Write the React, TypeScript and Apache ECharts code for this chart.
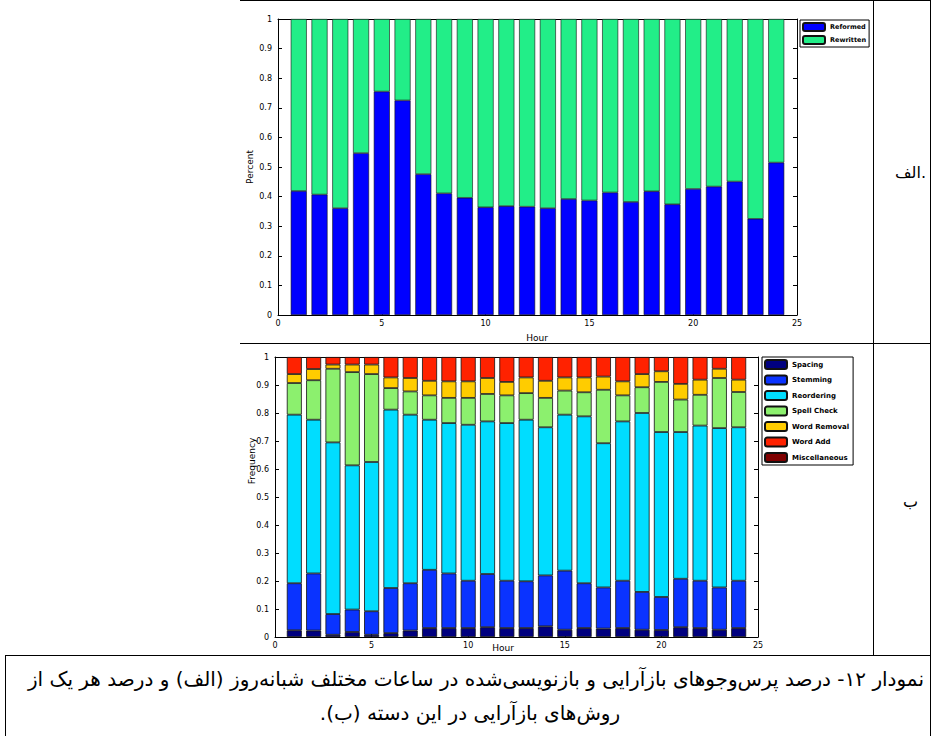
import React, { useEffect, useRef } from "react";
import * as echarts from "echarts";

// ---------- DATA ----------
const hours = [1, 2, 3, 4, 5, 6, 7, 8, 9, 10, 11, 12, 13, 14, 15, 16, 17, 18, 19, 20, 21, 22, 23, 24];
const xMin = 0;
const xMax = 25;
const xTicks = [0, 5, 10, 15, 20, 25];

// Chart (a): share of reformulated vs rewritten queries per hour
const topNames = ["Reformed", "Rewritten"];
const reformed = [0.419, 0.407, 0.361, 0.547, 0.755, 0.725, 0.476, 0.411, 0.396, 0.364, 0.368, 0.366, 0.361, 0.392, 0.387, 0.414, 0.382, 0.418, 0.374, 0.426, 0.434, 0.451, 0.325, 0.515];
const rewritten = [0.581, 0.593, 0.639, 0.453, 0.245, 0.275, 0.524, 0.589, 0.604, 0.636, 0.632, 0.634, 0.639, 0.608, 0.613, 0.586, 0.618, 0.582, 0.626, 0.574, 0.566, 0.549, 0.675, 0.485];

// Chart (b): share of each reformulation method per hour
const bottomNames = ["Spacing", "Stemming", "Reordering", "Spell Check", "Word Removal", "Word Add", "Miscellaneous"];
const spacing = [0.024, 0.023, 0.008, 0.018, 0.008, 0.014, 0.023, 0.032, 0.032, 0.032, 0.035, 0.032, 0.032, 0.038, 0.026, 0.032, 0.030, 0.032, 0.026, 0.025, 0.035, 0.032, 0.026, 0.032];
const stemming = [0.168, 0.204, 0.074, 0.080, 0.084, 0.161, 0.169, 0.208, 0.195, 0.169, 0.190, 0.169, 0.167, 0.182, 0.211, 0.160, 0.147, 0.169, 0.135, 0.118, 0.173, 0.169, 0.151, 0.169];
const reordering = [0.602, 0.549, 0.613, 0.515, 0.533, 0.637, 0.602, 0.536, 0.537, 0.557, 0.545, 0.563, 0.577, 0.529, 0.557, 0.596, 0.515, 0.569, 0.639, 0.589, 0.524, 0.554, 0.569, 0.548];
const spellCheck = [0.113, 0.141, 0.263, 0.333, 0.314, 0.077, 0.083, 0.087, 0.090, 0.096, 0.098, 0.099, 0.095, 0.105, 0.086, 0.086, 0.191, 0.093, 0.092, 0.179, 0.116, 0.110, 0.179, 0.126];
const wordRemoval = [0.032, 0.040, 0.015, 0.027, 0.034, 0.038, 0.048, 0.052, 0.059, 0.059, 0.057, 0.048, 0.056, 0.061, 0.047, 0.053, 0.047, 0.050, 0.047, 0.038, 0.056, 0.054, 0.033, 0.044];
const wordAdd = [0.061, 0.043, 0.027, 0.027, 0.027, 0.073, 0.075, 0.085, 0.087, 0.087, 0.075, 0.089, 0.073, 0.085, 0.073, 0.073, 0.070, 0.087, 0.061, 0.051, 0.096, 0.081, 0.042, 0.081];
const misc = [0.002, 0.002, 0.001, 0.002, 0.001, 0.002, 0.002, 0.002, 0.002, 0.002, 0.002, 0.002, 0.002, 0.002, 0.002, 0.002, 0.002, 0.002, 0.002, 0.002, 0.002, 0.002, 0.002, 0.002];

const topColors = ["#0000FF", "#22EE88"];
const bottomColors = ["#00007F", "#0A33FF", "#00DDFF", "#8CF06E", "#FFCC00", "#FF2200", "#7F0000"];

const captionLine1 = "نمودار ۱۲- درصد پرس‌وجوهای بازآرایی و بازنویسی‌شده در ساعات مختلف شبانه‌روز (الف) و درصد هر یک از";
const captionLine2 = "روش‌های بازآرایی در این دسته (ب).";
const labelA = "الف.";
const labelB = "ب";

const RLM = "\u200F";

export default function App() {
  const ref = useRef<HTMLDivElement>(null);

  useEffect(() => {
    if (!ref.current) return;
    const chart = echarts.init(ref.current, undefined, { renderer: "svg" });

    // category slots 0..25 so that bars sit exactly on the hour positions
    const slots: string[] = [];
    for (let v = xMin; v <= xMax; v++) slots.push(String(v));
    const slotData = (arr: number[]) => slots.map((s) => {
      const k = hours.indexOf(Number(s));
      return k >= 0 ? arr[k] : "-";
    });

    const tickFont = { fontSize: 8, color: "#000", fontFamily: "DejaVu Sans" };

    const mkCat = (grid: number) => ({
      type: "category",
      gridIndex: grid,
      data: slots,
      boundaryGap: false,
      show: false,
    });
    const mkX = (grid: number, show: boolean, pos: "top" | "bottom") => ({
      type: "value",
      gridIndex: grid,
      position: pos,
      min: xMin,
      max: xMax,
      interval: 5,
      axisLine: { show: true, onZero: false, lineStyle: { color: "#000", width: 1 } },
      axisTick: { show: true, inside: true, length: 4, lineStyle: { color: "#000" } },
      axisLabel: { show, ...tickFont, margin: 4, formatter: (v: number) => (xTicks.includes(v) ? String(v) : "") },
      splitLine: { show: false },
    });
    const mkY = (grid: number, show: boolean, pos: "left" | "right") => ({
      type: "value",
      gridIndex: grid,
      position: pos,
      min: 0,
      max: 1,
      interval: 0.1,
      axisLine: { show: true, onZero: false, lineStyle: { color: "#000", width: 1 } },
      axisTick: { show: true, inside: true, length: 4, lineStyle: { color: "#000" } },
      axisLabel: { show, ...tickFont, margin: 6 },
      splitLine: { show: false },
    });

    const series: any[] = [];
    [reformed, rewritten].forEach((arr, i) => {
      series.push({
        type: "bar",
        name: topNames[i],
        xAxisIndex: 0,
        yAxisIndex: 0,
        stack: "top",
        barWidth: 16,
        data: slotData(arr),
        itemStyle: { color: topColors[i], borderColor: "#111", borderWidth: 0.6 },
      });
    });
    [spacing, stemming, reordering, spellCheck, wordRemoval, wordAdd, misc].forEach((arr, i) => {
      series.push({
        type: "bar",
        name: bottomNames[i],
        xAxisIndex: 3,
        yAxisIndex: 2,
        stack: "bottom",
        barWidth: 15,
        data: slotData(arr),
        itemStyle: { color: bottomColors[i], borderColor: "#111", borderWidth: 0.8 },
      });
    });

    const line = (x1: number, y1: number, x2: number, y2: number) => ({
      type: "line",
      shape: { x1, y1, x2, y2 },
      style: { stroke: "#000", lineWidth: 1 },
      silent: true,
    });
    const txt = (text: string, x: number, y: number, size: number, align: string, rotation = 0, family = "DejaVu Sans") => ({
      type: "text",
      x,
      y,
      rotation,
      style: { text, fill: "#000", font: `${size}px "${family}"`, textAlign: align, textVerticalAlign: "middle" },
      silent: true,
    });

    const legendCommon = {
      orient: "vertical",
      backgroundColor: "#fff",
      borderColor: "#000",
      borderWidth: 1,
      borderRadius: 0,
      itemWidth: 22,
      selectedMode: false,
    };

    chart.setOption({
      animation: false,
      backgroundColor: "#fff",
      grid: [
        { left: 278, top: 19, width: 519, height: 296 },
        { left: 275, top: 357, width: 483, height: 280 },
      ],
      xAxis: [mkCat(0), mkX(0, true, "bottom"), mkX(0, false, "top"), mkCat(1), mkX(1, true, "bottom"), mkX(1, false, "top")],
      yAxis: [mkY(0, true, "left"), mkY(0, false, "right"), mkY(1, true, "left"), mkY(1, false, "right")],
      legend: [
        {
          ...legendCommon, data: topNames, left: 800, top: 20, itemGap: 3, itemHeight: 8, padding: [2, 3, 2, 2],
          textStyle: { fontSize: 6.5, lineHeight: 8, color: "#000", fontFamily: "DejaVu Sans", fontWeight: "bold" },
        },
        {
          ...legendCommon, data: bottomNames, left: 762, top: 357, itemGap: 4.5, itemHeight: 9, padding: [2, 4, 2, 2],
          textStyle: { fontSize: 7, lineHeight: 9, color: "#000", fontFamily: "DejaVu Sans", fontWeight: "bold" },
        },
      ],
      series,
      graphic: [
        // table lines
        line(240, 0.5, 931, 0.5),
        line(240, 343.5, 931, 343.5),
        line(5, 655.5, 931, 655.5),
        line(873.5, 0, 873.5, 655),
        line(930.5, 0, 930.5, 736),
        line(5.5, 655, 5.5, 736),
        // axis titles
        txt("Hour", 537, 338, 9, "center"),
        txt("Percent", 250, 167, 9, "center", Math.PI / 2),
        txt("Hour", 503, 648, 9, "center"),
        txt("Frequency", 252, 461, 9, "center", Math.PI / 2),
        // row labels
        txt(labelA, 926, 172, 16, "right"),
        txt(labelB, 918, 501, 16, "right"),
        // caption
        txt(RLM + captionLine1 + RLM, 924, 679, 20, "right"),
        txt(RLM + captionLine2 + RLM, 470, 713, 20, "center"),
      ],
    });

    return () => chart.dispose();
  }, []);

  return <div ref={ref} style={{ position: "absolute", left: 0, top: 0, width: 935, height: 736 }} />;
}
